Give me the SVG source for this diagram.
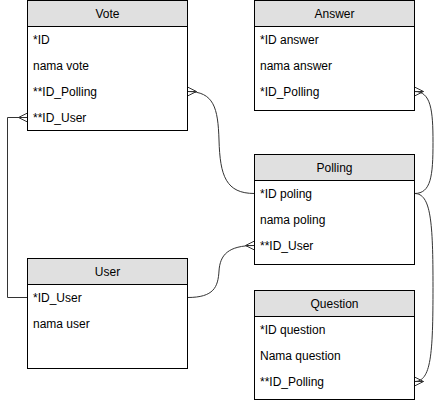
<svg xmlns="http://www.w3.org/2000/svg" width="436" height="402" viewBox="0 0 436 402">
<style>
.box{fill:#fff;stroke:#000;stroke-width:1}
.hdr{fill:#e0e0e0;stroke:#000;stroke-width:1}
.t{font-family:"Liberation Sans",Arial,sans-serif;font-size:12px;fill:#000}
.c{text-anchor:middle}
.conn{fill:none;stroke:#333;stroke-width:1}
</style>
<defs>
<marker id="many" markerUnits="userSpaceOnUse" viewBox="-11 -6 12 12" refX="0" refY="0" markerWidth="12" markerHeight="12" orient="auto-start-reverse" overflow="visible">
<path d="M-9,0 L0,-4.5 M-9,0 L0,4.5 M-9,0 L0,0" fill="none" stroke="#333" stroke-width="1"/>
</marker>
</defs>
<g id="connectors">
<path class="conn" d="M187.5,91.5 C214,91.5 218,108 219,140 C220,176 226,193.5 254.5,193.5" marker-start="url(#many)"/>
<path class="conn" d="M414.5,91.5 C431,91.5 433,110 433,142.5 C433,176 431,193.5 414.5,193.5" marker-start="url(#many)"/>
<path class="conn" d="M414.5,193.5 C431,193.5 433,222 433,287.5 C433,355 431,381.5 414.5,381.5" marker-end="url(#many)"/>
<path class="conn" d="M187.5,297.5 C214,297.5 218,287 219,271 C220,255 228,245.5 254.5,245.5" marker-end="url(#many)"/>
<path class="conn" d="M27.5,297.5 L7.5,297.5 L7.5,117.5 L27.5,117.5" marker-end="url(#many)"/>
</g>
<g id="vote">
<rect class="box" x="27.5" y="0.5" width="160" height="130"/>
<rect class="hdr" x="27.5" y="0.5" width="160" height="26"/>
<text class="t c" x="107.5" y="18">Vote</text>
<text class="t" x="33" y="44">*ID</text>
<text class="t" x="33" y="70">nama vote</text>
<text class="t" x="33" y="96">**ID_Polling</text>
<text class="t" x="33" y="122">**ID_User</text>
</g>
<g id="answer">
<rect class="box" x="254.5" y="0.5" width="160" height="110"/>
<rect class="hdr" x="254.5" y="0.5" width="160" height="26"/>
<text class="t c" x="334.5" y="18">Answer</text>
<text class="t" x="260" y="44">*ID answer</text>
<text class="t" x="260" y="70">nama answer</text>
<text class="t" x="260" y="96">*ID_Polling</text>
</g>
<g id="polling">
<rect class="box" x="254.5" y="154.5" width="160" height="110"/>
<rect class="hdr" x="254.5" y="154.5" width="160" height="26"/>
<text class="t c" x="334.5" y="172">Polling</text>
<text class="t" x="260" y="198">*ID poling</text>
<text class="t" x="260" y="224">nama poling</text>
<text class="t" x="260" y="250">**ID_User</text>
</g>
<g id="user">
<rect class="box" x="27.5" y="258.5" width="160" height="110"/>
<rect class="hdr" x="27.5" y="258.5" width="160" height="26"/>
<text class="t c" x="107.5" y="276">User</text>
<text class="t" x="33" y="302">*ID_User</text>
<text class="t" x="33" y="328">nama user</text>
</g>
<g id="question">
<rect class="box" x="254.5" y="290.5" width="160" height="109"/>
<rect class="hdr" x="254.5" y="290.5" width="160" height="26"/>
<text class="t c" x="334.5" y="308">Question</text>
<text class="t" x="260" y="334">*ID question</text>
<text class="t" x="260" y="360">Nama question</text>
<text class="t" x="260" y="386">**ID_Polling</text>
</g>
</svg>
